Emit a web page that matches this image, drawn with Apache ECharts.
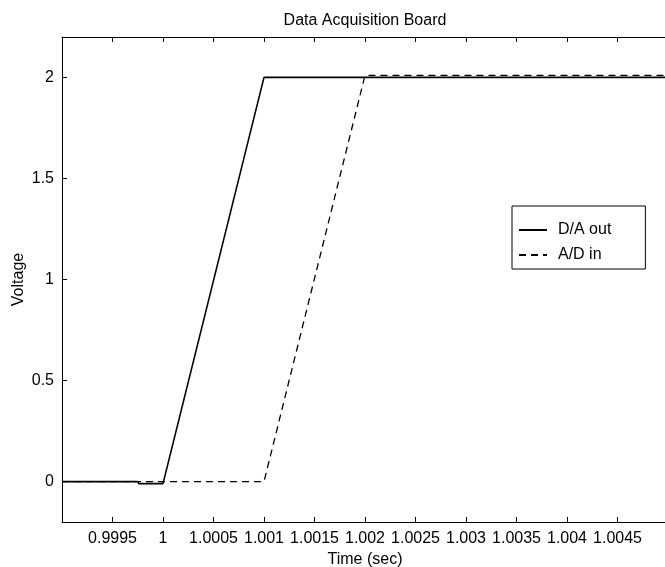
<!DOCTYPE html>
<html>
<head>
<meta charset="utf-8">
<script src="https://cdn.jsdelivr.net/npm/echarts@6/dist/echarts.min.js"></script>
<style>html,body{margin:0;padding:0;background:#fff;}#c{width:665px;height:567px;}</style>
</head>
<body>
<div id="c"></div>
<script>
var titleText = "Data Acquisition Board";
var xName = "Time (sec)";
var yName = "Voltage";
var xTicks = [0.9995, 1, 1.0005, 1.001, 1.0015, 1.002, 1.0025, 1.003, 1.0035, 1.004, 1.0045];
var yTicks = [0, 0.5, 1, 1.5, 2];
var daTime = [0.999, 0.99975, 0.99976, 1.0, 1.001, 1.005];
var daVolt = [0, 0, -0.01, -0.01, 2, 2];
var adTime = [0.999, 1.001, 1.002, 1.005];
var adVolt = [0, 0, 2.01, 2.01];
var seriesNames = ["D/A out", "A/D in"];

function pairs(xs, ys){ return xs.map(function(x,i){ return [x, ys[i]]; }); }
var font = "Liberation Sans, Arial, sans-serif";
var fs = 16;
var chart = echarts.init(document.getElementById('c'));
chart.setOption({
  animation: false,
  backgroundColor: '#fff',
  title: { text: titleText, left: 360, textAlign: 'center', top: 8, textStyle: { fontFamily: font, fontSize: fs, fontWeight: 'normal', color: '#000' } },
  grid: { left: 62, right: -3, top: 37, bottom: 45, containLabel: false, outerBoundsMode: 'none' },
  legend: {
    orient: 'vertical', left: 512, top: 206,
    data: seriesNames,
    itemWidth: 28, itemHeight: 16, itemGap: 9,
    itemStyle: { opacity: 0 },
    borderColor: '#000', borderWidth: 1, padding: [16, 34, 6, 6],
    backgroundColor: '#fff',
    textStyle: { fontFamily: font, fontSize: fs, color: '#000', padding: [0, 0, 0, 6] }
  },
  xAxis: [{
    type: 'value', min: 0.999, max: 1.005, interval: 0.0005,
    name: xName, nameLocation: 'middle', nameGap: 26,
    nameTextStyle: { fontFamily: font, fontSize: fs, color: '#000' },
    axisLine: { show: true, onZero: false, lineStyle: { color: '#000', width: 1 } },
    axisTick: { show: true, inside: true, length: 5, customValues: xTicks, lineStyle: { color: '#000' } },
    axisLabel: { customValues: xTicks, fontFamily: font, fontSize: fs, color: '#000', margin: 9,
      formatter: function(v){ return String(parseFloat(v.toFixed(4))); } },
    splitLine: { show: false }
  }, {
    type: 'value', position: 'top', min: 0.999, max: 1.005, interval: 0.0005,
    axisLine: { show: true, onZero: false, lineStyle: { color: '#000', width: 1 } },
    axisTick: { show: true, inside: true, length: 5, customValues: xTicks, lineStyle: { color: '#000' } },
    axisLabel: { show: false }, splitLine: { show: false }
  }],
  yAxis: [{
    type: 'value', min: -0.2, max: 2.2,
    name: yName, nameLocation: 'middle', nameGap: 35, nameRotate: 90, nameMoveOverlap: false,
    nameTextStyle: { fontFamily: font, fontSize: fs, color: '#000' },
    axisLine: { show: true, onZero: false, lineStyle: { color: '#000', width: 1 } },
    axisTick: { show: true, inside: true, length: 5, customValues: yTicks, lineStyle: { color: '#000' } },
    axisLabel: { customValues: yTicks, fontFamily: font, fontSize: fs, color: '#000', margin: 8 },
    splitLine: { show: false }
  }],
  series: [{
    name: seriesNames[0], type: 'line', data: pairs(daTime, daVolt), showSymbol: false, symbol: 'none',
    lineStyle: { color: '#000', width: 1.6, type: 'solid' }, itemStyle: { color: '#000' }
  }, {
    name: seriesNames[1], type: 'line', data: pairs(adTime, adVolt), showSymbol: false, symbol: 'none',
    lineStyle: { color: '#000', width: 1.3, type: [7, 5] }, itemStyle: { color: '#000' }
  }]
});
</script>
</body>
</html>
